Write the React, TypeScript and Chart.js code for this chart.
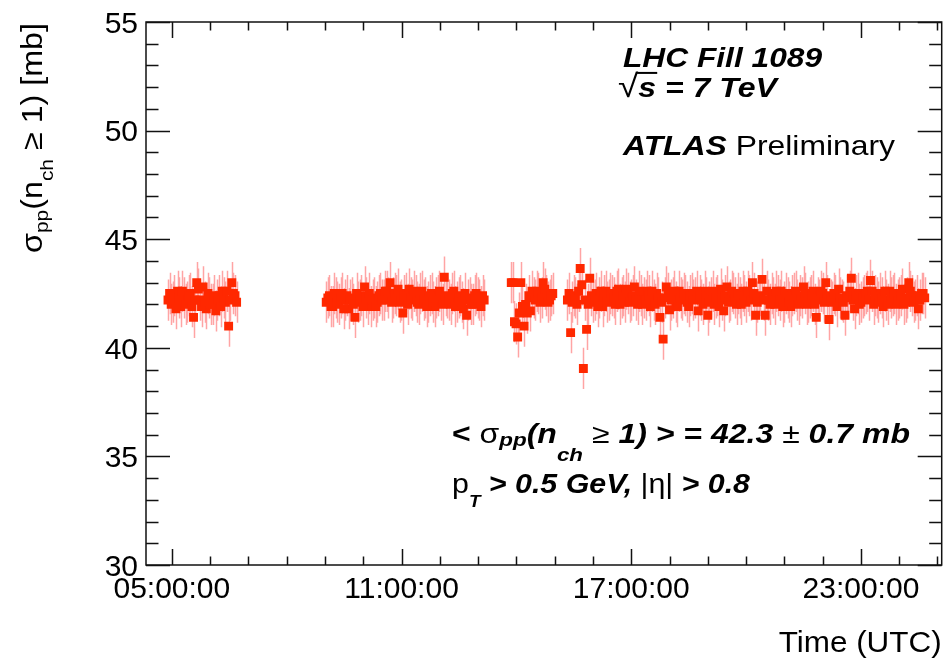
import React, { useEffect, useRef } from 'react';
import { Chart, registerables } from 'chart.js';

Chart.register(...registerables);

// ---------------- data ----------------
const Y_MIN = 30;
const Y_MAX = 55;
const X_MIN_H = 4.325;
const X_MAX_H = 25.11;
const Y_MAJOR = [30, 35, 40, 45, 50, 55];
const X_MAJOR_HOURS = [5, 11, 17, 23];
const X_TICK_LABELS = ['05:00:00', '11:00:00', '17:00:00', '23:00:00'];
const ERR = 0.95; // mb, per-point statistical uncertainty

// minutes after 00:00 UTC
const seg1Minutes = [294, 299, 304, 309, 314, 319, 324, 329, 334, 339, 344, 349, 354, 359, 364, 369, 374, 379, 384, 389, 394, 399];
const seg1Values = [42.2, 42.0, 42.4, 42.6, 41.9, 42.3, 42.1, 42.5, 41.4, 43.0, 42.2, 42.8, 41.8, 42.3, 42.0, 41.7, 42.4, 42.6, 42.1, 41.0, 43.0, 42.4];
const seg1bMinutes = [296.5, 301.5, 306.5, 311.5, 316.5, 321.5, 326.5, 331.5, 336.5, 341.5, 346.5, 351.5, 356.5, 361.5, 366.5, 371.5, 376.5, 381.5, 386.5, 391.5, 396.5, 401.5];
const seg1bValues = [42.5, 42.1, 41.8, 42.3, 42.6, 42.0, 42.4, 41.9, 42.2, 42.7, 41.9, 42.1, 42.5, 42.0, 42.4, 42.2, 41.9, 42.3, 42.6, 42.2, 42.5, 42.1];

const seg2Minutes = [542, 547, 552, 557, 562, 567, 572, 577, 582, 587, 592, 597, 602, 607, 612, 617, 622, 627, 632, 637, 642, 647, 652, 657, 662, 667, 672, 677, 682, 687, 692, 697, 702, 707, 712, 717, 722, 727, 732, 737, 742, 747, 752, 757, 762, 767, 772, 777, 782, 787];
const seg2Values = [42.1, 42.4, 41.9, 42.3, 42.0, 42.5, 42.2, 41.8, 42.3, 41.4, 42.1, 42.4, 42.8, 42.0, 41.9, 42.3, 42.1, 42.5, 42.2, 42.6, 43.0, 42.3, 42.4, 42.1, 41.6, 42.5, 42.7, 42.2, 42.4, 42.0, 42.6, 42.3, 42.1, 42.5, 41.9, 42.4, 42.2, 43.25, 42.3, 42.0, 42.6, 42.1, 42.4, 41.8, 41.5, 42.3, 42.0, 42.5, 42.2, 42.4];
const seg2bMinutes = [544.5, 549.5, 554.5, 559.5, 564.5, 569.5, 574.5, 579.5, 584.5, 589.5, 594.5, 599.5, 604.5, 609.5, 614.5, 619.5, 624.5, 629.5, 634.5, 639.5, 644.5, 649.5, 654.5, 659.5, 664.5, 669.5, 674.5, 679.5, 684.5, 689.5, 694.5, 699.5, 704.5, 709.5, 714.5, 719.5, 724.5, 729.5, 734.5, 739.5, 744.5, 749.5, 754.5, 759.5, 764.5, 769.5, 774.5, 779.5, 784.5, 789.5];
const seg2bValues = [42.3, 41.9, 42.5, 42.1, 42.3, 41.8, 42.4, 42.2, 42.0, 42.5, 42.2, 41.9, 42.3, 42.5, 42.2, 41.9, 42.4, 42.2, 42.6, 42.3, 42.1, 42.5, 42.7, 42.2, 42.4, 42.0, 42.3, 42.6, 42.1, 42.5, 42.2, 41.9, 42.4, 42.1, 42.3, 42.6, 42.0, 42.4, 42.2, 42.5, 41.9, 42.3, 42.1, 42.5, 42.2, 42.0, 42.4, 42.3, 41.9, 42.2];

const seg3Minutes = [832, 837, 842, 847, 852, 857, 862, 867, 872, 877, 882, 887, 892, 897];
const seg3Values = [43.0, 41.2, 40.5, 43.0, 41.0, 41.6, 41.7, 42.3, 42.6, 42.1, 43.0, 42.4, 42.2, 42.5];
const seg3bMinutes = [834.5, 839.5, 844.5, 849.5, 854.5, 859.5, 864.5, 869.5, 874.5, 879.5, 884.5, 889.5, 894.5];
const seg3bValues = [43.0, 41.1, 41.6, 41.9, 42.0, 42.4, 42.6, 42.2, 42.5, 42.3, 42.7, 42.1, 42.4];

const seg4Minutes = [920, 925, 930, 935, 940, 945, 950, 955, 960, 965, 970, 975, 980, 985, 990, 995, 1000, 1005, 1010, 1015, 1020, 1025, 1030, 1035, 1040, 1045, 1050, 1055, 1060, 1065, 1070, 1075, 1080, 1085, 1090, 1095, 1100, 1105, 1110, 1115, 1120, 1125, 1130, 1135, 1140, 1145, 1150, 1155, 1160, 1165, 1170, 1175, 1180, 1185, 1190, 1195, 1200, 1205, 1210, 1215, 1220, 1225, 1230, 1235, 1240, 1245, 1250, 1255, 1260, 1265, 1270, 1275, 1280, 1285, 1290, 1295, 1300, 1305, 1310, 1315, 1320, 1325, 1330, 1335, 1340, 1345, 1350, 1355, 1360, 1365, 1370, 1375, 1380, 1385, 1390, 1395, 1400, 1405, 1410, 1415, 1420, 1425, 1430, 1435, 1440, 1445, 1450, 1455, 1460, 1465, 1470, 1475, 1480];
const seg4Values = [42.2, 40.7, 42.4, 42.0, 43.65, 39.05, 40.85, 43.2, 42.1, 42.5, 42.3, 41.9, 42.6, 42.2, 42.4, 42.0, 42.7, 42.3, 42.1, 42.5, 42.2, 42.8, 42.0, 42.4, 42.3, 42.6, 41.9, 42.2, 42.5, 41.4, 40.4, 42.8, 41.75, 42.3, 42.1, 42.6, 42.2, 42.4, 41.9, 42.5, 42.3, 41.7, 42.2, 42.6, 41.5, 42.3, 42.0, 42.4, 42.7, 41.7, 42.8, 42.2, 42.5, 42.0, 42.3, 42.6, 42.1, 42.4, 43.0, 41.5, 42.3, 43.15, 41.5, 42.2, 42.5, 42.0, 42.4, 42.6, 42.1, 42.3, 41.9, 42.5, 42.2, 42.4, 42.8, 42.0, 42.3, 42.6, 41.4, 42.2, 42.5, 43.0, 41.3, 42.1, 42.4, 42.7, 42.2, 41.5, 42.3, 43.2, 41.8, 42.5, 42.1, 42.4, 42.6, 43.1, 42.0, 42.3, 42.5, 41.9, 42.2, 42.6, 42.4, 42.0, 42.3, 42.7, 42.1, 43.0, 42.4, 42.2, 41.8, 42.5, 42.3];
const seg4bMinutes = [922.5, 927.5, 932.5, 937.5, 942.5, 947.5, 952.5, 957.5, 962.5, 967.5, 972.5, 977.5, 982.5, 987.5, 992.5, 997.5, 1002.5, 1007.5, 1012.5, 1017.5, 1022.5, 1027.5, 1032.5, 1037.5, 1042.5, 1047.5, 1052.5, 1057.5, 1062.5, 1067.5, 1072.5, 1077.5, 1082.5, 1087.5, 1092.5, 1097.5, 1102.5, 1107.5, 1112.5, 1117.5, 1122.5, 1127.5, 1132.5, 1137.5, 1142.5, 1147.5, 1152.5, 1157.5, 1162.5, 1167.5, 1172.5, 1177.5, 1182.5, 1187.5, 1192.5, 1197.5, 1202.5, 1207.5, 1212.5, 1217.5, 1222.5, 1227.5, 1232.5, 1237.5, 1242.5, 1247.5, 1252.5, 1257.5, 1262.5, 1267.5, 1272.5, 1277.5, 1282.5, 1287.5, 1292.5, 1297.5, 1302.5, 1307.5, 1312.5, 1317.5, 1322.5, 1327.5, 1332.5, 1337.5, 1342.5, 1347.5, 1352.5, 1357.5, 1362.5, 1367.5, 1372.5, 1377.5, 1382.5, 1387.5, 1392.5, 1397.5, 1402.5, 1407.5, 1412.5, 1417.5, 1422.5, 1427.5, 1432.5, 1437.5, 1442.5, 1447.5, 1452.5, 1457.5, 1462.5, 1467.5, 1472.5, 1477.5];
const seg4bValues = [
  42.5, 42.1, 42.3, 42.6, 42.9, 42.2, 42.0, 42.4, 42.2, 41.9,
  42.6, 42.4, 42.1, 42.5, 42.3, 42.6, 42.0, 42.4, 42.7, 42.1,
  42.4, 42.2, 42.6, 42.0, 42.2, 42.4, 42.6, 42.0, 42.3, 42.1,
  42.3, 42.5, 42.2, 42.6, 41.9, 42.3, 42.5, 42.1, 42.4, 42.2,
  42.6, 42.4, 42.0, 42.3, 42.1, 42.6, 42.3, 41.9, 42.2, 42.4,
  42.1, 42.6, 42.3, 42.5, 42.0, 42.4, 42.6, 42.2, 42.5, 42.1,
  42.4, 42.2, 42.6, 42.0, 42.3, 42.6, 42.2, 41.9, 42.5, 42.1,
  42.4, 42.6, 42.0, 42.3, 42.5, 42.1, 42.4, 42.0, 42.3, 42.6,
  42.1, 42.4, 42.2, 42.5, 41.9, 42.3, 42.1, 42.4, 42.6, 42.2,
  42.4, 42.0, 42.3, 42.5, 42.2, 42.6, 42.4, 42.1, 42.3, 42.6,
  42.0, 42.3, 42.5, 42.2, 42.4, 42.0, 42.3, 42.6, 42.1, 42.4,
  42.2, 42.5,
];

// ---------------- text helpers ----------------
const FONT = '"Liberation Sans", Arial, Helvetica, sans-serif';

type Seg = { t: string; s?: string; r?: number; dy?: number; ol?: boolean };

function fontOf(s: string | undefined, px: number) {
  const st = s || 'n';
  const italic = st.includes('i') ? 'italic ' : '';
  const bold = st.includes('b') ? 'bold ' : '';
  return `${italic}${bold}${px}px ${FONT}`;
}

function measureRich(ctx: CanvasRenderingContext2D, segs: Seg[], size: number) {
  let w = 0;
  for (const g of segs) {
    ctx.font = fontOf(g.s, size * (g.r || 1));
    w += ctx.measureText(g.t).width;
  }
  return w;
}

function drawRich(
  ctx: CanvasRenderingContext2D,
  segs: Seg[],
  size: number,
  x: number,
  y: number,
  opts: { fit?: number; align?: string; rot?: number }
) {
  const nat = measureRich(ctx, segs, size);
  const sx = opts.fit ? opts.fit / nat : 1;
  const total = nat * sx;
  ctx.save();
  ctx.translate(x, y);
  if (opts.rot) ctx.rotate(opts.rot);
  let start = 0;
  if (opts.align === 'right') start = -total;
  else if (opts.align === 'center') start = -total / 2;
  ctx.translate(start, 0);
  ctx.scale(sx, 1);
  ctx.textAlign = 'left';
  ctx.textBaseline = 'alphabetic';
  ctx.fillStyle = '#000';
  ctx.strokeStyle = '#000';
  let cx = 0;
  for (const g of segs) {
    const px = size * (g.r || 1);
    ctx.font = fontOf(g.s, px);
    const w = ctx.measureText(g.t).width;
    ctx.fillText(g.t, cx, (g.dy || 0) * size);
    if (g.ol) {
      ctx.lineWidth = 2;
      ctx.beginPath();
      ctx.moveTo(cx - 1, -0.86 * size);
      ctx.lineTo(cx + w + 1, -0.86 * size);
      ctx.stroke();
    }
    cx += w;
  }
  ctx.restore();
}

// ---------------- plugins ----------------
const errorBarPlugin = {
  id: 'errorBars',
  beforeDatasetsDraw(chart: any) {
    const ctx: CanvasRenderingContext2D = chart.ctx;
    const ys = chart.scales.y;
    const meta = chart.getDatasetMeta(0);
    const data = chart.data.datasets[0].data as any[];
    ctx.save();
    ctx.beginPath();
    ctx.rect(chart.chartArea.left, chart.chartArea.top, chart.chartArea.right - chart.chartArea.left, chart.chartArea.bottom - chart.chartArea.top);
    ctx.clip();
    ctx.strokeStyle = '#ffa4a4';
    ctx.lineWidth = 1.5;
    ctx.beginPath();
    meta.data.forEach((el: any, i: number) => {
      const d = data[i];
      const x = Math.round(el.x) + 0.5;
      ctx.moveTo(x, ys.getPixelForValue(d.y + d.e));
      ctx.lineTo(x, ys.getPixelForValue(d.y - d.e));
    });
    ctx.stroke();
    ctx.restore();
  },
};

const framePlugin = {
  id: 'rootFrame',
  afterDraw(chart: any) {
    const ctx: CanvasRenderingContext2D = chart.ctx;
    const { left, right, top, bottom } = chart.chartArea;
    const xs = chart.scales.x;
    const ys = chart.scales.y;
    ctx.save();
    ctx.strokeStyle = '#111';
    ctx.lineWidth = 1.5;
    ctx.strokeRect(left, top, right - left, bottom - top);

    ctx.beginPath();
    // y ticks (left + right)
    for (let v = Y_MIN; v <= Y_MAX; v += 1) {
      const y = Math.round(ys.getPixelForValue(v)) + 0.5;
      const major = Y_MAJOR.includes(v);
      const len = major ? 24 : 12.5;
      ctx.moveTo(left, y);
      ctx.lineTo(left + len, y);
      ctx.moveTo(right, y);
      ctx.lineTo(right - len, y);
    }
    // x ticks hourly (bottom + top)
    for (let h = Math.ceil(X_MIN_H); h <= X_MAX_H; h += 1) {
      const x = Math.round(xs.getPixelForValue(h)) + 0.5;
      const major = X_MAJOR_HOURS.includes(h);
      const len = major ? 16 : 8.5;
      ctx.moveTo(x, bottom);
      ctx.lineTo(x, bottom - len);
      ctx.moveTo(x, top);
      ctx.lineTo(x, top + len);
    }
    ctx.stroke();

    // tick labels
    ctx.fillStyle = '#000';
    ctx.font = `30px ${FONT}`;
    ctx.textBaseline = 'alphabetic';
    ctx.textAlign = 'right';
    Y_MAJOR.forEach((v) => {
      const y = ys.getPixelForValue(v);
      ctx.fillText(String(v), 138, y + 10.7);
    });
    ctx.textAlign = 'center';
    X_MAJOR_HOURS.forEach((h, i) => {
      ctx.fillText(X_TICK_LABELS[i], xs.getPixelForValue(h), 598);
    });

    // axis titles
    drawRich(ctx, [{ t: 'Time (UTC)' }], 30, right, 652, { align: 'right', fit: 163 });
    drawRich(
      ctx,
      [
        { t: 'σ' },
        { t: 'pp', r: 0.65, dy: 0.21 },
        { t: '(n' },
        { t: 'ch', r: 0.65, dy: 0.38 },
        { t: ' ≥ 1) [mb]' },
      ],
      29,
      42,
      253,
      { rot: -Math.PI / 2, fit: 230 }
    );

    // annotations
    drawRich(ctx, [{ t: 'LHC Fill 1089', s: 'bi' }], 28, 623, 67, { fit: 199 });
    drawRich(
      ctx,
      [
        { t: '√', s: 'n', r: 1.15 },
        { t: 's', s: 'bi', ol: true },
        { t: ' = 7 TeV', s: 'bi' },
      ],
      28,
      618,
      97,
      { fit: 159 }
    );
    drawRich(ctx, [{ t: 'ATLAS', s: 'bi' }, { t: ' Preliminary', s: 'n' }], 28, 623, 155, { fit: 272 });
    drawRich(
      ctx,
      [
        { t: '< ', s: 'b' },
        { t: 'σ', s: 'n' },
        { t: 'pp', s: 'bi', r: 0.7, dy: 0.12 },
        { t: '(n', s: 'bi' },
        { t: 'ch', s: 'bi', r: 0.7, dy: 0.68 },
        { t: ' ≥ ', s: 'n' },
        { t: '1) > = 42.3 ', s: 'bi' },
        { t: '±', s: 'n' },
        { t: ' 0.7 mb', s: 'bi' },
      ],
      27,
      452,
      443,
      { fit: 458 }
    );
    drawRich(
      ctx,
      [
        { t: 'p', s: 'n' },
        { t: 'T', s: 'bi', r: 0.62, dy: 0.5 },
        { t: ' > 0.5 GeV, ', s: 'bi' },
        { t: '|η|', s: 'n' },
        { t: ' > 0.8', s: 'bi' },
      ],
      27,
      452,
      493,
      { fit: 298 }
    );
    ctx.restore();
  },
};

// ---------------- component ----------------
export default function App() {
  const canvasRef = useRef<HTMLCanvasElement | null>(null);

  useEffect(() => {
    const canvas = canvasRef.current;
    if (!canvas) return;
    const minutes = [
      ...seg1Minutes, ...seg1bMinutes,
      ...seg2Minutes, ...seg2bMinutes,
      ...seg3Minutes, ...seg3bMinutes,
      ...seg4Minutes, ...seg4bMinutes,
    ];
    const values = [
      ...seg1Values, ...seg1bValues,
      ...seg2Values, ...seg2bValues,
      ...seg3Values, ...seg3bValues,
      ...seg4Values, ...seg4bValues,
    ];
    const points = minutes.map((m, i) => ({ x: m / 60, y: values[i], e: ERR }));

    const chart = new Chart(canvas, {
      type: 'scatter',
      data: {
        datasets: [
          {
            data: points,
            pointStyle: 'rect',
            pointRadius: 6.3,
            pointHoverRadius: 6.3,
            backgroundColor: '#ff2800',
            borderColor: '#ff2800',
            borderWidth: 0,
            showLine: false,
          },
        ],
      },
      options: {
        animation: false,
        responsive: false,
        devicePixelRatio: 1,
        events: [],
        layout: { padding: { left: 146, right: 2, top: 22, bottom: 96 } },
        scales: {
          x: { type: 'linear', display: false, min: X_MIN_H, max: X_MAX_H },
          y: { type: 'linear', display: false, min: Y_MIN, max: Y_MAX },
        },
        plugins: {
          legend: { display: false },
          tooltip: { enabled: false },
        },
      },
      plugins: [errorBarPlugin, framePlugin],
    } as any);

    return () => chart.destroy();
  }, []);

  return (
    <div style={{ position: 'fixed', left: 0, top: 0, width: 948, height: 661, background: '#fff' }}>
      <canvas ref={canvasRef} width={948} height={661} style={{ display: 'block' }} />
    </div>
  );
}
